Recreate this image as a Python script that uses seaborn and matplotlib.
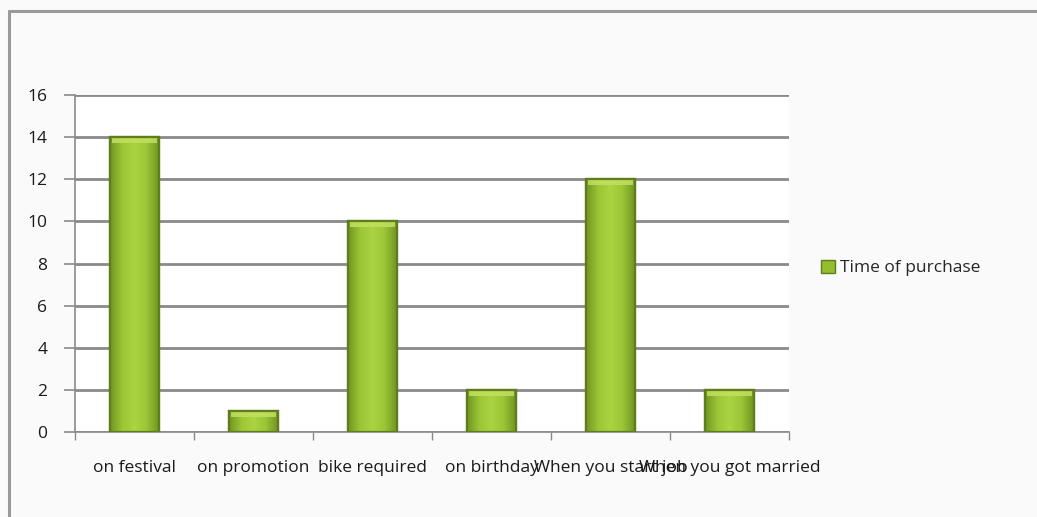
import matplotlib
matplotlib.use("Agg")
import matplotlib.pyplot as plt
import seaborn as sns
import pandas as pd
import numpy as np
from matplotlib.lines import Line2D
from matplotlib.patches import Patch
from matplotlib.colors import LinearSegmentedColormap

categories = ["on festival", "on promotion", "bike required", "on birthday",
              "When you start job", "When you got married"]
values = [14, 1, 10, 2, 12, 2]
series_name = "Time of purchase"
y_ticks = [0, 2, 4, 6, 8, 10, 12, 14, 16]

df = pd.DataFrame({"when": categories, "count": values})

sns.set_theme(style="white")
plt.rcParams["font.family"] = ["Open Sans", "DejaVu Sans"]

fig = plt.figure(figsize=(10.37, 5.17), dpi=100)
fig.patch.set_facecolor("#fafafa")

# outer chart frame (top and left edges)
fig.add_artist(Line2D([9 / 1037, 1.0], [1 - 11 / 517, 1 - 11 / 517],
                      transform=fig.transFigure, color="#9a9a9a", lw=2.2))
fig.add_artist(Line2D([9 / 1037, 9 / 1037], [0.0, 1 - 11 / 517],
                      transform=fig.transFigure, color="#9a9a9a", lw=2.2))

ax = fig.add_axes([75 / 1037, 85 / 517, 714 / 1037, 337 / 517])
ax.set_facecolor("white")

sns.barplot(data=df, x="when", y="count", color="#94bd30", width=0.41,
            edgecolor="#5f7d1c", linewidth=1.6, saturation=1, ax=ax, zorder=3)

ax.set_ylim(0, 16)
ax.set_xlim(-0.5, len(categories) - 0.5)

# horizontal shading across each bar, plus a lighter rim at the top
shade = LinearSegmentedColormap.from_list(
    "barshade", ["#729622", "#9cc636", "#abd342", "#9cc636", "#729622"])
grad = np.linspace(0, 1, 64).reshape(1, -1)
for p in list(ax.patches):
    x0, w, h = p.get_x(), p.get_width(), p.get_height()
    im = ax.imshow(grad, cmap=shade, aspect="auto", zorder=3.5,
                   extent=(x0, x0 + w, 0, h), interpolation="bicubic")
    im.set_clip_path(p)
    ax.fill_between([x0 + 0.02, x0 + w - 0.02], h - 0.28, h - 0.04,
                    color="#c2e060", alpha=0.85, zorder=4, lw=0)
    ax.add_patch(plt.Rectangle((x0, 0), w, h, fill=False,
                               edgecolor="#5f7d1c", lw=1.6, zorder=4.5))
ax.set_xlim(-0.5, len(categories) - 0.5)
ax.set_ylim(0, 16)

ax.set_yticks(y_ticks)
ax.set_yticklabels([str(v) for v in y_ticks], fontsize=12.5, color="#1a1a1a")
ax.yaxis.grid(True, color="#8a8a8a", lw=2.0, zorder=0)
ax.set_axisbelow(True)

ax.set_xticks(range(len(categories)))
ax.set_xticklabels(categories, fontsize=12.5, color="#1a1a1a")
ax.tick_params(axis="x", length=0, pad=20)
ax.tick_params(axis="y", length=8, width=1.2, color="#8a8a8a", left=True, pad=12)
# category boundary ticks
ax.set_xticks([i - 0.5 for i in range(len(categories) + 1)], minor=True)
ax.tick_params(axis="x", which="minor", length=6, width=1, color="#8a8a8a",
               bottom=True, direction="out")

for side in ["top", "right"]:
    ax.spines[side].set_visible(False)
ax.spines["left"].set_color("#8a8a8a")
ax.spines["left"].set_linewidth(1.2)
ax.spines["bottom"].set_color("#8a8a8a")
ax.spines["bottom"].set_linewidth(1.2)
ax.set_xlabel("")
ax.set_ylabel("")

handle = Patch(facecolor="#94bd30", edgecolor="#5f7d1c")
fig.legend([handle], [series_name], loc="center left",
           bbox_to_anchor=(805 / 1037, 1 - 268 / 517), frameon=False,
           fontsize=12.5, handlelength=0.8, handleheight=0.8, handletextpad=0.3)

fig.savefig("out.png", dpi=100, facecolor=fig.get_facecolor())
